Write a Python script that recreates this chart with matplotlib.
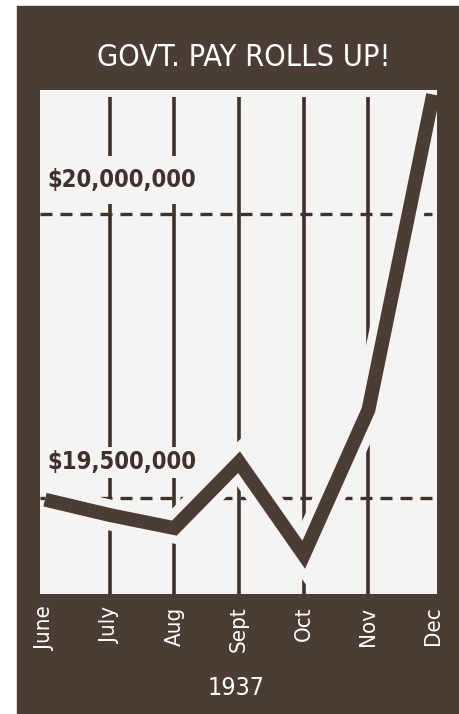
import matplotlib
matplotlib.use("Agg")
import matplotlib.pyplot as plt
import matplotlib.patheffects as pe
from matplotlib.patches import Rectangle

# payroll totals, 1937
months = ["June", "July", "Aug", "Sept", "Oct", "Nov", "Dec"]
payroll = [19_497_000, 19_470_000, 19_447_000, 19_563_000, 19_400_000, 19_655_000, 20_210_000]
ref_levels = [20_000_000, 19_500_000]
ref_labels = ["$20,000,000", "$19,500,000"]

BROWN = "#4b3c36"
INK = "#3f312c"
PAPER = "#f6f4f2"

plt.rcParams["font.family"] = ["DejaVu Sans"]
plt.rcParams["font.stretch"] = "condensed"

W, H = 459, 714
fig = plt.figure(figsize=(W / 100, H / 100), dpi=100, facecolor="white")

# dark panel behind everything
fig.patches.append(Rectangle((17 / W, 0), 1 - 17 / W, 1 - 6 / H,
                             transform=fig.transFigure, color=BROWN, zorder=-1))

ax = fig.add_axes([40 / W, (H - 594) / H, 397 / W, 504 / H], zorder=2)
ax.set_facecolor(PAPER)
for s in ax.spines.values():
    s.set_visible(False)

x = list(range(len(months)))
ax.set_xlim(-0.077, 6.06)
ax.set_ylim(19_331_000, 20_218_000)

# month rules (July .. Nov)
ax.vlines(x[1:-1], 19_331_000, 20_205_000, color=INK, lw=2.6, zorder=1)

# reference levels
for lvl in ref_levels:
    ax.axhline(lvl, color=INK, lw=2.4, dashes=(3.6, 2.4), zorder=1)

# payroll line, white halo breaks the rules where it crosses
ax.plot(x, payroll, color=BROWN, lw=10, solid_joinstyle="miter",
        solid_capstyle="butt", zorder=3,
        path_effects=[pe.Stroke(linewidth=22, foreground=PAPER), pe.Normal()])

# level labels
ax.text(0.04, 20_060_000, ref_labels[0], fontsize=17, fontweight="bold",
        color=INK, ha="left", va="center", zorder=4, clip_on=True,
        bbox=dict(boxstyle="square,pad=0.5", fc=PAPER, ec="none"))
ax.text(0.04, 19_563_000, ref_labels[1], fontsize=17, fontweight="bold",
        color=INK, ha="left", va="center", zorder=4, clip_on=True,
        bbox=dict(boxstyle="square,pad=0.15", fc=PAPER, ec="none"))

ax.set_xticks(x)
ax.set_xticklabels(months, rotation=90, color="white", fontsize=16)
ax.tick_params(axis="x", length=0, pad=9)
ax.set_yticks([])

fig.text(244 / W, 1 - 57 / H, "GOVT. PAY ROLLS UP!", color="white",
         fontsize=22, ha="center", va="center")
fig.text(236 / W, 1 - 688 / H, "1937", color="white", fontsize=18,
         ha="center", va="center")

fig.savefig("out.png", dpi=100, facecolor="white")
